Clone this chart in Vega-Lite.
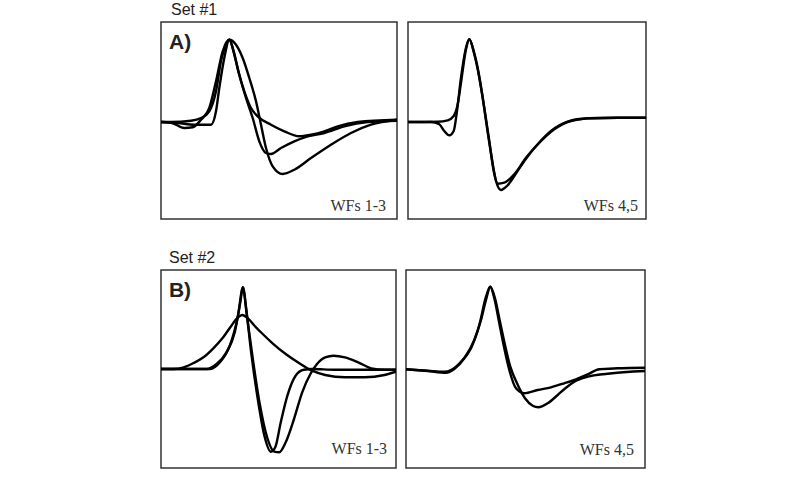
{
  "$schema": "https://vega.github.io/schema/vega-lite/v6.json",
  "background": "white",
  "padding": {"left": 160, "top": 1, "right": 0, "bottom": 0},
  "config": {"view": {"stroke": "#333", "strokeWidth": 1.5}},
  "datasets": {
    "tl": [
      {"wf":1,"t":0,"v":0},{"wf":1,"t":10,"v":0},{"wf":1,"t":30,"v":1.3},{"wf":1,"t":40,"v":4},{"wf":1,"t":48.3,"v":10.7},{"wf":1,"t":55,"v":30.7},{"wf":1,"t":60,"v":60.7},{"wf":1,"t":65,"v":77.3},{"wf":1,"t":68.3,"v":82.3},{"wf":1,"t":75,"v":77.3},{"wf":1,"t":81.7,"v":64},{"wf":1,"t":88.3,"v":44},{"wf":1,"t":95,"v":20.7},{"wf":1,"t":100,"v":-2.7},{"wf":1,"t":105,"v":-26},{"wf":1,"t":111.7,"v":-44.3},{"wf":1,"t":121.7,"v":-52},{"wf":1,"t":133.3,"v":-47.7},{"wf":1,"t":150,"v":-36},{"wf":1,"t":170,"v":-22.7},{"wf":1,"t":190,"v":-11},{"wf":1,"t":210,"v":-2.7},{"wf":1,"t":236,"v":2.3},
      {"wf":2,"t":0,"v":0},{"wf":2,"t":10,"v":-0.7},{"wf":2,"t":23.3,"v":-6},{"wf":2,"t":31.7,"v":-5.3},{"wf":2,"t":40,"v":2.3},{"wf":2,"t":48.3,"v":14},{"wf":2,"t":55,"v":40.7},{"wf":2,"t":61.7,"v":70.7},{"wf":2,"t":68.3,"v":82.3},{"wf":2,"t":73.3,"v":67.3},{"wf":2,"t":78.3,"v":47.3},{"wf":2,"t":85,"v":24},{"wf":2,"t":91.7,"v":4},{"wf":2,"t":98.3,"v":-19.3},{"wf":2,"t":105,"v":-31},{"wf":2,"t":110,"v":-32},{"wf":2,"t":120,"v":-26},{"wf":2,"t":133.3,"v":-19.3},{"wf":2,"t":146.7,"v":-14.3},{"wf":2,"t":163.3,"v":-11},{"wf":2,"t":183.3,"v":-4.3},{"wf":2,"t":206.7,"v":0},{"wf":2,"t":236,"v":1.3},
      {"wf":3,"t":0,"v":0},{"wf":3,"t":16.7,"v":-1},{"wf":3,"t":33.3,"v":-2.7},{"wf":3,"t":50,"v":-2.7},{"wf":3,"t":55,"v":10.7},{"wf":3,"t":58.3,"v":34},{"wf":3,"t":63.3,"v":64},{"wf":3,"t":68.3,"v":82.3},{"wf":3,"t":72.7,"v":70.7},{"wf":3,"t":77.3,"v":50.7},{"wf":3,"t":83.3,"v":30.7},{"wf":3,"t":90,"v":14},{"wf":3,"t":96.7,"v":5.7},{"wf":3,"t":110,"v":-2.7},{"wf":3,"t":123.3,"v":-9.3},{"wf":3,"t":138.3,"v":-14.3},{"wf":3,"t":150,"v":-12.7},{"wf":3,"t":163.3,"v":-9.3},{"wf":3,"t":176.7,"v":-4.3},{"wf":3,"t":196.7,"v":0},{"wf":3,"t":236,"v":2.3}
    ],
    "tr": [
      {"wf":4,"t":0,"v":0},{"wf":4,"t":23,"v":0},{"wf":4,"t":31.3,"v":-2.3},{"wf":4,"t":36.3,"v":-9},{"wf":4,"t":41.3,"v":-13.3},{"wf":4,"t":45.7,"v":-9},{"wf":4,"t":49,"v":11},{"wf":4,"t":53,"v":44.3},{"wf":4,"t":58,"v":74.3},{"wf":4,"t":61.3,"v":82.7},{"wf":4,"t":65.7,"v":71},{"wf":4,"t":70.3,"v":51},{"wf":4,"t":74.7,"v":24.3},{"wf":4,"t":79,"v":-5.7},{"wf":4,"t":83.7,"v":-35.7},{"wf":4,"t":88,"v":-59},{"wf":4,"t":93,"v":-68},{"wf":4,"t":99,"v":-64},{"wf":4,"t":106.3,"v":-54},{"wf":4,"t":116.3,"v":-39},{"wf":4,"t":129.7,"v":-22.3},{"wf":4,"t":143,"v":-9},{"wf":4,"t":159.7,"v":0.3},{"wf":4,"t":179.7,"v":3.7},{"wf":4,"t":209.7,"v":4.3},{"wf":4,"t":238,"v":4.3},
      {"wf":5,"t":0,"v":0},{"wf":5,"t":29.7,"v":0.3},{"wf":5,"t":39.7,"v":1.7},{"wf":5,"t":45.7,"v":6},{"wf":5,"t":49.7,"v":17.7},{"wf":5,"t":53.7,"v":44.3},{"wf":5,"t":58,"v":72.7},{"wf":5,"t":61.3,"v":82.7},{"wf":5,"t":66.3,"v":67.7},{"wf":5,"t":71.3,"v":44.3},{"wf":5,"t":76.3,"v":14.3},{"wf":5,"t":81.3,"v":-19},{"wf":5,"t":85.7,"v":-49},{"wf":5,"t":89.7,"v":-61.7},{"wf":5,"t":96.3,"v":-60.7},{"wf":5,"t":106.3,"v":-52.3},{"wf":5,"t":118,"v":-35.7},{"wf":5,"t":133,"v":-19},{"wf":5,"t":146.3,"v":-7.3},{"wf":5,"t":163,"v":1},{"wf":5,"t":183,"v":3.7},{"wf":5,"t":209.7,"v":4.3},{"wf":5,"t":238,"v":4.3}
    ],
    "bl": [
      {"wf":1,"t":0,"v":0},{"wf":1,"t":46.3,"v":0},{"wf":1,"t":56.3,"v":5},{"wf":1,"t":66.3,"v":16.7},{"wf":1,"t":74.7,"v":36.7},{"wf":1,"t":80.3,"v":66.7},{"wf":1,"t":83,"v":81.7},{"wf":1,"t":86.3,"v":60},{"wf":1,"t":91.3,"v":16.7},{"wf":1,"t":98,"v":-30},{"wf":1,"t":104.7,"v":-66.7},{"wf":1,"t":111.3,"v":-82.7},{"wf":1,"t":115.7,"v":-78.3},{"wf":1,"t":121.3,"v":-53.3},{"wf":1,"t":128,"v":-26.7},{"wf":1,"t":136.3,"v":-6.7},{"wf":1,"t":144.7,"v":-0.7},{"wf":1,"t":153,"v":0},{"wf":1,"t":176.3,"v":-0.7},{"wf":1,"t":209.7,"v":-0.7},{"wf":1,"t":238,"v":-0.7},
      {"wf":2,"t":0,"v":0},{"wf":2,"t":49.7,"v":0},{"wf":2,"t":59.7,"v":6.7},{"wf":2,"t":69.7,"v":23.3},{"wf":2,"t":78,"v":53.3},{"wf":2,"t":83,"v":81.7},{"wf":2,"t":87,"v":53.3},{"wf":2,"t":93,"v":10},{"wf":2,"t":99.7,"v":-33.3},{"wf":2,"t":108,"v":-70},{"wf":2,"t":114.7,"v":-82.7},{"wf":2,"t":119.7,"v":-83.3},{"wf":2,"t":126.3,"v":-73.3},{"wf":2,"t":134.7,"v":-50},{"wf":2,"t":143,"v":-23.3},{"wf":2,"t":151.3,"v":-5},{"wf":2,"t":158,"v":5},{"wf":2,"t":166.3,"v":11.7},{"wf":2,"t":174.7,"v":13.3},{"wf":2,"t":186.3,"v":11.7},{"wf":2,"t":199.7,"v":6.7},{"wf":2,"t":213,"v":0.7},{"wf":2,"t":226.3,"v":-0.7},{"wf":2,"t":238,"v":-0.7},
      {"wf":3,"t":0,"v":0},{"wf":3,"t":13,"v":0},{"wf":3,"t":23,"v":1.7},{"wf":3,"t":33,"v":6},{"wf":3,"t":43,"v":11.7},{"wf":3,"t":53,"v":20.7},{"wf":3,"t":63,"v":31.7},{"wf":3,"t":71.3,"v":43.3},{"wf":3,"t":78,"v":51.7},{"wf":3,"t":82.3,"v":54},{"wf":3,"t":88,"v":50.7},{"wf":3,"t":94.7,"v":43.3},{"wf":3,"t":103,"v":35},{"wf":3,"t":113,"v":25.7},{"wf":3,"t":126.3,"v":15},{"wf":3,"t":139.7,"v":6},{"wf":3,"t":153,"v":-1.7},{"wf":3,"t":166.3,"v":-6},{"wf":3,"t":186.3,"v":-8.3},{"wf":3,"t":206.3,"v":-8.3},{"wf":3,"t":226.3,"v":-6},{"wf":3,"t":238,"v":-2.7}
    ],
    "br": [
      {"wf":4,"t":0,"v":0.7},{"wf":4,"t":21.7,"v":-1},{"wf":4,"t":40,"v":-2.7},{"wf":4,"t":48.3,"v":1},{"wf":4,"t":58.3,"v":11.7},{"wf":4,"t":68.3,"v":30},{"wf":4,"t":75,"v":50},{"wf":4,"t":80,"v":70},{"wf":4,"t":84.3,"v":83.3},{"wf":4,"t":89,"v":71.7},{"wf":4,"t":94,"v":48.3},{"wf":4,"t":99,"v":25},{"wf":4,"t":104.3,"v":3.3},{"wf":4,"t":111,"v":-13.3},{"wf":4,"t":119,"v":-28.3},{"wf":4,"t":126.7,"v":-35.7},{"wf":4,"t":132.3,"v":-37.3},{"wf":4,"t":141.7,"v":-33.3},{"wf":4,"t":151.7,"v":-25},{"wf":4,"t":160,"v":-17.7},{"wf":4,"t":168.3,"v":-11.7},{"wf":4,"t":181.7,"v":-6.7},{"wf":4,"t":201.7,"v":-3.7},{"wf":4,"t":239,"v":-1},
      {"wf":5,"t":0,"v":0.7},{"wf":5,"t":21.7,"v":-0.7},{"wf":5,"t":38.3,"v":-1.7},{"wf":5,"t":45,"v":0},{"wf":5,"t":55,"v":8.3},{"wf":5,"t":65,"v":21.7},{"wf":5,"t":73.3,"v":45},{"wf":5,"t":80,"v":73.3},{"wf":5,"t":84.3,"v":83.3},{"wf":5,"t":88.3,"v":71.7},{"wf":5,"t":93.3,"v":46.7},{"wf":5,"t":98.3,"v":21.7},{"wf":5,"t":103.3,"v":0},{"wf":5,"t":110,"v":-18.3},{"wf":5,"t":118.3,"v":-23.3},{"wf":5,"t":131.7,"v":-20},{"wf":5,"t":145,"v":-17.3},{"wf":5,"t":158.3,"v":-13.3},{"wf":5,"t":168.3,"v":-10},{"wf":5,"t":181.7,"v":-4.3},{"wf":5,"t":193.3,"v":0.7},{"wf":5,"t":211.7,"v":1.7},{"wf":5,"t":239,"v":2.3}
    ]
  },
  "vconcat": [
    {
      "hconcat": [
        {
          "width": 236, "height": 197,
          "title": {"text": "Set #1", "anchor": "start", "font": "Liberation Sans", "fontSize": 16, "fontWeight": "normal", "color": "#222", "offset": 4, "dx": 10},
          "layer": [
            {"data": {"name": "tl"}, "mark": {"type": "line", "interpolate": "monotone", "color": "black", "strokeWidth": 2.4, "clip": true},
             "encoding": {"x": {"field": "t", "type": "quantitative", "scale": {"domain": [0, 236], "nice": false, "zero": false}, "axis": null},
                          "y": {"field": "v", "type": "quantitative", "scale": {"domain": [-97, 100], "nice": false, "zero": false}, "axis": null},
                          "detail": {"field": "wf"}}},
            {"data": {"values": [{}]}, "mark": {"type": "text", "text": "A)", "font": "Liberation Sans", "fontWeight": "bold", "fontSize": 21, "align": "left", "baseline": "alphabetic", "color": "#222"},
             "encoding": {"x": {"datum": 8}, "y": {"datum": 73}}},
            {"data": {"values": [{}]}, "mark": {"type": "text", "text": "WFs 1-3", "font": "Liberation Serif", "fontSize": 16, "align": "right", "baseline": "alphabetic", "color": "#333"},
             "encoding": {"x": {"datum": 225}, "y": {"datum": -89}}}
          ]
        },
        {
          "width": 238, "height": 197,
          "layer": [
            {"data": {"name": "tr"}, "mark": {"type": "line", "interpolate": "monotone", "color": "black", "strokeWidth": 2.4, "clip": true},
             "encoding": {"x": {"field": "t", "type": "quantitative", "scale": {"domain": [0, 238], "nice": false, "zero": false}, "axis": null},
                          "y": {"field": "v", "type": "quantitative", "scale": {"domain": [-97, 100], "nice": false, "zero": false}, "axis": null},
                          "detail": {"field": "wf"}}},
            {"data": {"values": [{}]}, "mark": {"type": "text", "text": "WFs 4,5", "font": "Liberation Serif", "fontSize": 16, "align": "right", "baseline": "alphabetic", "color": "#333"},
             "encoding": {"x": {"datum": 230}, "y": {"datum": -89}}}
          ]
        }
      ],
      "spacing": 11, "bounds": "flush"
    },
    {
      "hconcat": [
        {
          "width": 235, "height": 198,
          "title": {"text": "Set #2", "anchor": "start", "font": "Liberation Sans", "fontSize": 16, "fontWeight": "normal", "color": "#222", "offset": 4, "dx": 8},
          "layer": [
            {"data": {"name": "bl"}, "mark": {"type": "line", "interpolate": "monotone", "color": "black", "strokeWidth": 2.4, "clip": true},
             "encoding": {"x": {"field": "t", "type": "quantitative", "scale": {"domain": [0, 238], "nice": false, "zero": false}, "axis": null},
                          "y": {"field": "v", "type": "quantitative", "scale": {"domain": [-99, 99], "nice": false, "zero": false}, "axis": null},
                          "detail": {"field": "wf"}}},
            {"data": {"values": [{}]}, "mark": {"type": "text", "text": "B)", "font": "Liberation Sans", "fontWeight": "bold", "fontSize": 21, "align": "left", "baseline": "alphabetic", "color": "#222"},
             "encoding": {"x": {"datum": 8}, "y": {"datum": 72}}},
            {"data": {"values": [{}]}, "mark": {"type": "text", "text": "WFs 1-3", "font": "Liberation Serif", "fontSize": 16, "align": "right", "baseline": "alphabetic", "color": "#333"},
             "encoding": {"x": {"datum": 229}, "y": {"datum": -85}}}
          ]
        },
        {
          "width": 239, "height": 198,
          "layer": [
            {"data": {"name": "br"}, "mark": {"type": "line", "interpolate": "monotone", "color": "black", "strokeWidth": 2.4, "clip": true},
             "encoding": {"x": {"field": "t", "type": "quantitative", "scale": {"domain": [0, 239], "nice": false, "zero": false}, "axis": null},
                          "y": {"field": "v", "type": "quantitative", "scale": {"domain": [-98, 100], "nice": false, "zero": false}, "axis": null},
                          "detail": {"field": "wf"}}},
            {"data": {"values": [{}]}, "mark": {"type": "text", "text": "WFs 4,5", "font": "Liberation Serif", "fontSize": 16, "align": "right", "baseline": "alphabetic", "color": "#333"},
             "encoding": {"x": {"datum": 228}, "y": {"datum": -85}}}
          ]
        }
      ],
      "spacing": 10, "bounds": "flush"
    }
  ],
  "spacing": 29
}
